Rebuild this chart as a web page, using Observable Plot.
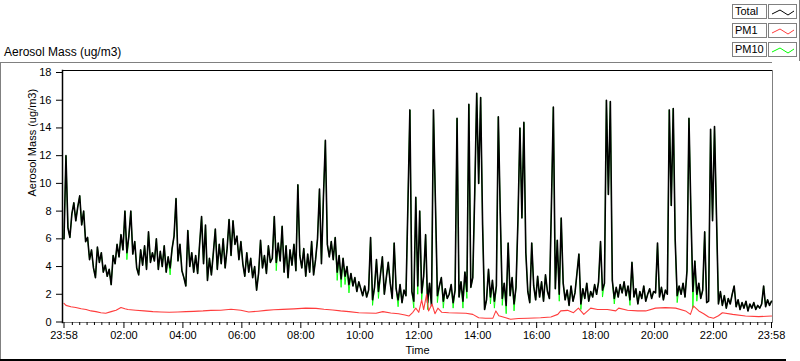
<!DOCTYPE html>
<html>
<head>
<meta charset="utf-8">
<script src="https://cdn.jsdelivr.net/npm/d3@7"></script>
<script src="https://cdn.jsdelivr.net/npm/@observablehq/plot@0.6"></script>
<style>
html, body { margin: 0; padding: 0; background: #fff; }
body { width: 800px; height: 361px; overflow: hidden; font-family: "Liberation Sans", Arial, sans-serif; position: relative; }
#head { position: relative; width: 800px; height: 62px; }
#title { position: absolute; left: 4px; top: 46px; font-size: 12px; line-height: 12px; color: #000; white-space: nowrap; }
.lgl { position: absolute; left: 732px; width: 31px; height: 13px; border: 1px solid #808080; background: #fff; font-size: 11px; line-height: 13px; padding-left: 2px; box-sizing: content-box; }
.lgs { position: absolute; left: 768px; width: 27px; height: 13px; border: 1px solid #808080; background: #fff; }
#lgedge { position: absolute; left: 799px; top: 0; width: 1px; height: 61px; background: #808080; }
#panel { position: relative; width: 800px; height: 299px; }
#ptop { position: absolute; left: 0; top: 0; width: 772px; height: 1px; background: #808080; }
#pleft { position: absolute; left: 0; top: 0; width: 1px; height: 298px; background: #808080; }
#pbottom { position: absolute; left: 0; top: 297px; width: 786px; height: 2px; background: #000; }
#chart svg { display: block; }
</style>
</head>
<body>
<div id="head">
  <div id="title">Aerosol Mass (ug/m3)</div>
  <div id="legend"></div>
  <div id="lgedge"></div>
</div>
<div id="panel">
  <div id="chart"></div>
  <div id="ptop"></div>
  <div id="pleft"></div>
  <div id="pbottom"></div>
</div>
<script>
// ---------------- data ----------------
const seriesNames = ["Total", "PM1", "PM10"];
const yLabel = "Aerosol Mass (ug/m3)";
const xLabel = "Time";

// x tick positions (minutes after 23:58) and their labels
const xTickMinutes = [0, 122, 242, 362, 482, 602, 722, 842, 962, 1082, 1202, 1322, 1440];
const xTickLabels = ["23:58", "02:00", "04:00", "06:00", "08:00", "10:00", "12:00", "14:00", "16:00", "18:00", "20:00", "22:00", "23:58"];
const yTicks = [0, 2, 4, 6, 8, 10, 12, 14, 16, 18];

// Total, one reading every 4 minutes from 23:58
const totalStepMinutes = 4;
const totalValues = [
  6.0, 12.0, 6.8, 6.1, 7.8, 8.6, 7.3, 8.3, 9.1, 7.0, 8.0, 5.8, 6.1, 4.5, 5.2, 3.9,
  3.2, 5.4, 4.3, 5.0, 3.6, 4.1, 3.3, 3.8, 2.7, 4.8, 4.2, 5.6, 4.7, 6.3, 5.2,
  8.0, 5.0, 6.2, 8.0, 4.9, 5.8, 3.9, 3.4, 5.2, 4.1, 5.5, 3.8, 6.5, 4.3, 5.0,
  4.4, 6.0, 3.8, 5.1, 4.0, 5.5, 3.6, 4.7, 3.9, 5.3, 6.2, 8.9, 4.4, 5.6, 3.7,
  3.2, 2.6, 6.6, 4.0, 5.0, 3.6, 4.8, 3.5, 5.6, 7.6, 4.2, 7.0, 3.0, 4.6, 3.4,
  5.0, 6.7, 3.8, 5.6, 4.2, 6.0, 3.9, 5.3, 7.4, 4.8, 7.3, 5.6, 6.2, 4.5, 5.8,
  4.2, 3.3, 5.0, 3.6, 4.6, 3.2, 4.0, 2.3, 3.5, 5.9, 3.9, 4.8, 3.5, 5.5, 4.3,
  4.6, 7.6, 4.3, 5.7, 4.4, 6.9, 3.6, 5.5, 3.2, 5.2, 4.1, 5.6, 3.7, 9.9, 4.8,
  3.9, 5.3, 3.3, 4.9, 3.6, 5.8, 3.4, 4.5, 6.0, 9.6, 4.2, 9.0, 13.1, 5.6, 4.7,
  5.8, 4.5, 6.1, 3.6, 4.8, 3.1, 4.6, 3.3, 4.0, 2.7, 3.5, 2.6, 3.2, 2.2, 2.9,
  2.4, 1.9, 2.6, 1.8, 2.3, 6.1, 1.6, 2.5, 4.5, 2.2, 3.4, 4.7, 2.0, 3.2, 4.3,
  2.8, 1.7, 5.7, 2.4, 1.6, 2.7, 1.4, 2.3, 1.9, 8.5, 15.3, 2.2, 1.5, 9.0, 2.6,
  8.0, 2.1, 3.3, 6.3, 1.4, 2.8, 1.2, 15.3, 8.6, 1.9, 2.6, 3.2, 1.5, 2.4, 1.7,
  2.0, 2.7, 1.4, 2.3, 14.7, 1.8, 2.9, 1.5, 3.6, 2.2, 15.7, 2.5, 3.2, 9.3, 16.5,
  10.0, 16.2, 7.0, 0.9, 1.6, 3.8, 1.8, 3.0, 1.5, 2.6, 14.8, 7.8, 1.7, 2.8, 1.2,
  5.7, 1.9, 3.2, 1.3, 2.5, 7.4, 14.0, 7.5, 14.4, 5.0, 2.2, 1.4, 5.7, 2.6, 1.6,
  3.3, 1.8, 2.9, 1.5, 3.4, 2.2, 1.7, 8.3, 15.5, 2.4, 5.9, 2.0, 7.5, 2.8, 1.6,
  2.3, 1.2, 2.6, 1.5, 2.1, 3.5, 4.9, 1.3, 2.4, 1.7, 2.8, 1.5, 2.2, 1.8, 2.7,
  2.0, 2.9, 5.8, 2.3, 2.8, 16.0, 9.2, 15.9, 3.0, 1.7, 2.5, 1.8, 2.7, 2.1, 2.9,
  1.9, 2.6, 1.6, 4.3, 1.8, 2.4, 1.3, 2.2, 1.7, 2.6, 1.5, 2.0, 2.4, 1.7, 2.2,
  2.1, 5.7, 1.8, 2.5, 1.6, 2.3, 2.0, 15.3, 8.4, 15.4, 5.9, 1.9, 2.6, 2.0, 2.8,
  1.8, 3.7, 14.7, 7.9, 2.2, 4.4, 2.0, 2.8, 1.7, 2.3, 6.5, 1.4, 1.5, 13.9, 7.3,
  14.1, 7.7, 1.3,
  2.2, 1.2, 1.9, 1.0, 1.7, 1.3, 2.0, 2.6, 1.1, 1.6, 0.9, 1.4, 1.0, 1.5, 0.8, 1.3,
  1.0, 1.4, 0.9, 1.2, 1.0, 1.3, 2.6, 1.1, 1.6, 1.2, 1.5
];

// PM10 equals Total except at these readings: [reading index, value]
const pm10Differences = [
  [32, 4.5], [54, 3.4], [108, 3.7], [139, 3.0], [141, 2.5], [143, 2.7], [145, 2.1],
  [157, 1.2], [160, 1.7], [170, 1.1], [178, 1.0], [180, 2.0], [182, 1.6], [185, 0.9],
  [190, 1.4], [193, 1.0], [198, 1.0], [203, 1.0], [205, 1.7], [217, 1.3], [219, 1.0],
  [223, 1.2], [225, 0.6], [229, 0.8], [252, 1.5], [263, 0.9], [274, 1.8], [280, 1.3],
  [288, 1.2], [312, 1.4], [320, 1.0], [322, 1.5]
];

// PM1: minutes after 23:58 and values
const pm1Minutes = [
  0, 4, 14, 24, 35, 45, 55, 65, 75, 85, 96, 106, 116, 124, 130, 146, 163, 181, 197, 214,
  232, 248, 264, 283, 299, 319, 340, 360, 376, 395, 411, 427, 445, 468, 492, 513, 529, 547,
  563, 580, 600, 616, 635, 649, 665, 681, 694, 702, 710, 716, 722, 728, 732, 738, 742, 749,
  755, 761, 769, 783, 799, 818, 832, 844, 858, 873, 879, 885, 899, 909, 925, 944, 970, 991,
  1005, 1011, 1025, 1037, 1047, 1058, 1072, 1086, 1106, 1123, 1129, 1147, 1168, 1184, 1204,
  1224, 1245, 1265, 1275, 1281, 1292, 1302, 1312, 1322, 1332, 1340, 1361, 1387, 1414, 1440
];
const pm1Values = [
  1.35, 1.2, 1.1, 1.05, 0.96, 0.9, 0.8, 0.75, 0.67, 0.63, 0.75, 0.85, 1.05, 0.95, 0.9, 0.85, 0.8, 0.75, 0.72, 0.7,
  0.72, 0.75, 0.77, 0.8, 0.84, 0.85, 0.92, 0.85, 0.72, 0.78, 0.84, 0.88, 0.91, 0.95, 1.0, 0.98, 0.92, 0.87,
  0.8, 0.75, 0.67, 0.65, 0.63, 0.75, 0.65, 0.6, 0.5, 0.43, 0.7, 1.0, 0.7, 1.6, 0.9, 2.0, 0.8, 1.3,
  0.6, 1.0, 0.7, 0.67, 0.65, 0.63, 0.55, 0.31, 0.27, 0.28, 0.8, 0.45, 0.3, 0.2, 0.25, 0.27, 0.31, 0.36,
  0.55, 0.8, 0.84, 0.67, 1.0, 0.55, 1.0, 0.9, 0.9, 0.8, 1.0, 0.85, 0.8, 0.8, 1.0,
  1.04, 1.0, 0.8, 0.55, 1.16, 0.8, 0.6, 0.36, 0.27, 0.45, 0.67, 0.55, 0.43, 0.39, 0.43
];

// ---------------- build tables ----------------
const totalData = totalValues.map((v, i) => ({t: i * totalStepMinutes, v}));
const pm10Map = new Map(pm10Differences);
const pm10Data = totalValues.map((v, i) => ({t: i * totalStepMinutes, v: pm10Map.has(i) ? pm10Map.get(i) : v}));
const pm1Data = pm1Minutes.map((t, i) => ({t, v: pm1Values[i]}));
const labelOf = new Map(xTickMinutes.map((m, i) => [m, xTickLabels[i]]));
const minorTicks = d3.range(17, 1440, 15).filter(m => !labelOf.has(m));

const colors = {Total: "#000000", PM1: "#ff3c3c", PM10: "#00ff00"};

// ---------------- legend ----------------
const legend = document.getElementById("legend");
seriesNames.forEach((name, i) => {
  const top = 4 + i * 19;
  const lab = document.createElement("div");
  lab.className = "lgl"; lab.style.top = top + "px"; lab.textContent = name;
  legend.appendChild(lab);
  const sw = document.createElement("div");
  sw.className = "lgs"; sw.style.top = top + "px";
  sw.innerHTML = `<svg width="27" height="13"><polyline points="3,8 11,4 19,9 25,5" fill="none" stroke="${colors[name]}" stroke-width="1"/></svg>`;
  legend.appendChild(sw);
});

// ---------------- chart ----------------
const chart = Plot.plot({
  width: 800,
  height: 299,
  marginLeft: 62,
  marginRight: 28,
  marginTop: 8,
  marginBottom: 39,
  style: {fontFamily: "'Liberation Sans', Arial, sans-serif", fontSize: "11px", background: "transparent", color: "#000"},
  x: {domain: [0, 1440], range: [63.5, 771]},
  y: {domain: [0, 18], range: [259.5, 10]},
  marks: [
    Plot.frame({anchor: "top", stroke: "#000"}),
    Plot.frame({anchor: "bottom", stroke: "#808080"}),
    Plot.frame({anchor: "right", stroke: "#808080"}),
    Plot.line(pm10Data, {x: "t", y: "v", stroke: colors.PM10, strokeWidth: 0.9}),
    Plot.line(totalData, {x: "t", y: "v", stroke: colors.Total, strokeWidth: 1.6}),
    Plot.line(pm1Data, {x: "t", y: "v", stroke: colors.PM1, strokeWidth: 1.1}),
    Plot.frame({anchor: "left", stroke: "#000", strokeWidth: 1.5}),
    Plot.axisY(yTicks, {anchor: "left", tickSize: 6, tickPadding: 5, label: null, fontSize: 11}),
    Plot.axisX(minorTicks, {anchor: "bottom", tickSize: 3, tickFormat: () => "", label: null}),
    Plot.axisX(xTickMinutes, {anchor: "bottom", tickSize: 6, tickPadding: 3, tickFormat: d => labelOf.get(d), label: null, fontSize: 11}),
    Plot.text([yLabel], {frameAnchor: "left", dx: -30, rotate: -90, text: d => d, fontSize: 11}),
    Plot.text([xLabel], {frameAnchor: "bottom", dy: 24, lineAnchor: "top", text: d => d, fontSize: 11})
  ]
});
document.getElementById("chart").appendChild(chart);
</script>
</body>
</html>
